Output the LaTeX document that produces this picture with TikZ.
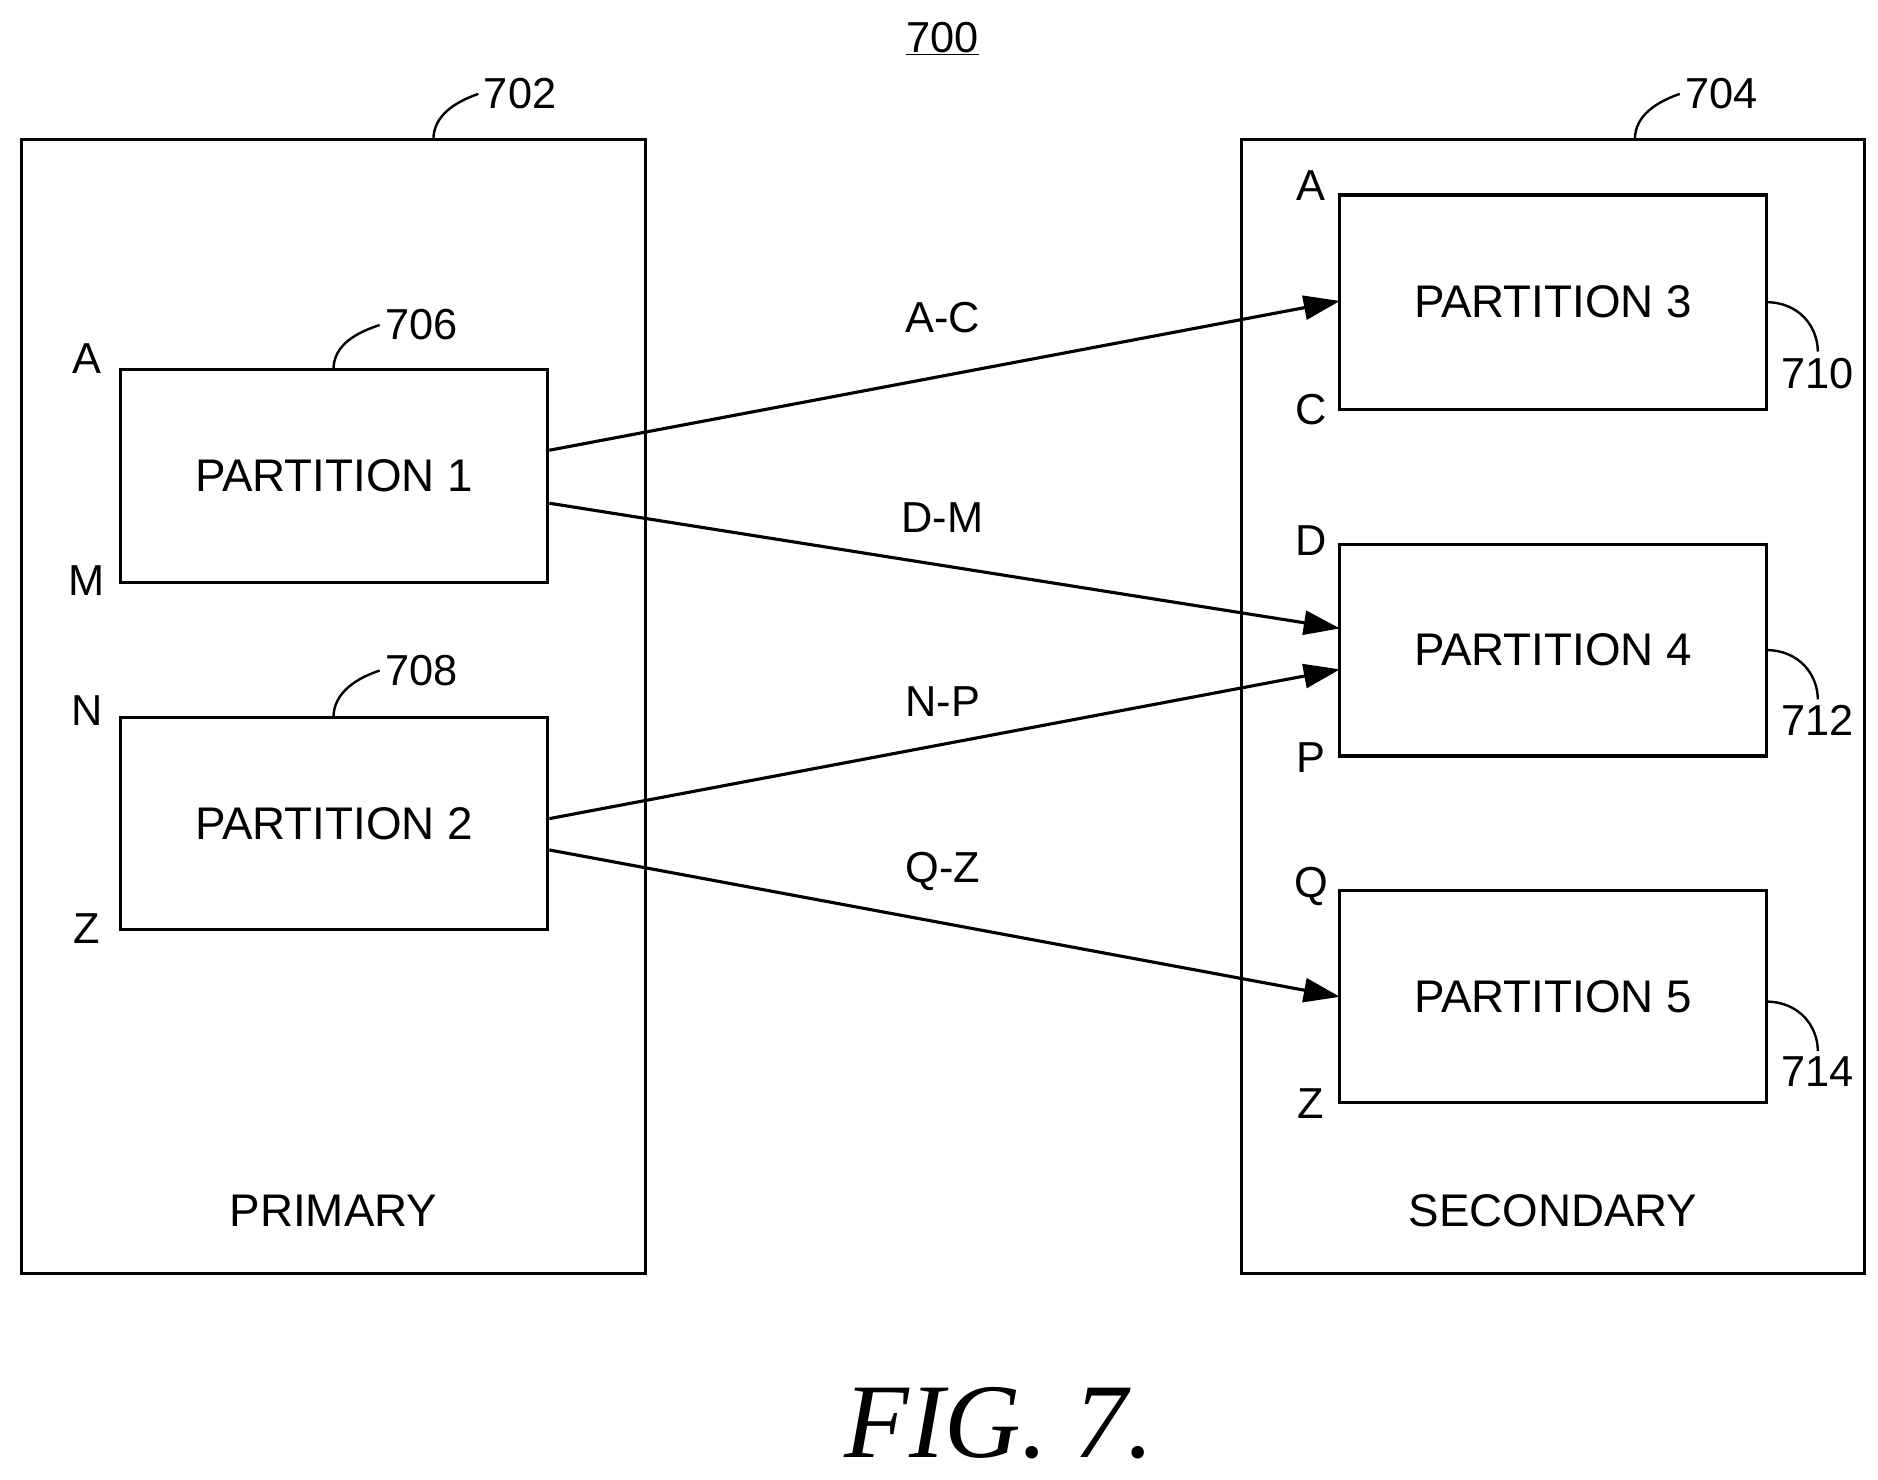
\documentclass[tikz,border=0pt]{standalone}
\usepackage{fontspec}
\setmainfont{Liberation Sans}
\newfontfamily\figfont{Liberation Serif}
\usetikzlibrary{arrows.meta}
\begin{document}
\begin{tikzpicture}[x=1pt,y=-1pt,line width=2.6pt,
 txt/.style={font=\fontsize{36}{40}\selectfont},
 big/.style={font=\fontsize{38}{42}\selectfont},
 arr/.style={-{Triangle[length=30pt,width=20pt]}},
 lead/.style={line width=2pt}]
\useasboundingbox (0,0) rectangle (1560,1229);
\coordinate (pa) at (18,116); \coordinate (pb) at (536,1058);
\draw (pa) rectangle (pb);
\coordinate (sa) at (1031,116); \coordinate (sb) at (1549,1058);
\draw (sa) rectangle (sb);
\node[draw,minimum width=355pt,minimum height=177pt,inner sep=0,big] (p1) at (277.5,395.5) {PARTITION 1};
\node[draw,minimum width=355pt,minimum height=176pt,inner sep=0,big] (p2) at (277.5,684) {PARTITION 2};
\node[draw,minimum width=354pt,minimum height=178pt,inner sep=0,big] (p3) at (1290,251) {PARTITION 3};
\node[draw,minimum width=354pt,minimum height=176pt,inner sep=0,big] (p4) at (1290,540) {PARTITION 4};
\node[draw,minimum width=354pt,minimum height=176pt,inner sep=0,big] (p5) at (1290,828) {PARTITION 5};
\coordinate (t3) at (1113,250); \coordinate (t4a) at (1113,522);
\coordinate (t4b) at (1113,556); \coordinate (t5) at (1113,828);
\draw[arr] (p1.east |- 0,374) -- (t3);
\draw[arr] (p1.east |- 0,418) -- (t4a);
\draw[arr] (p2.east |- 0,680) -- (t4b);
\draw[arr] (p2.east |- 0,706) -- (t5);
\node[txt] (lac) at (783,264) {A-C};
\node[txt] (ldm) at (783,430) {D-M};
\node[txt] (lnp) at (783,583) {N-P};
\node[txt] (lqz) at (783,724) {Q-Z};
\node[txt] (l1) at (72,298) {A};
\node[txt] (l2) at (72,482) {M};
\node[txt] (l3) at (72,590) {N};
\node[txt] (l4) at (72,771) {Z};
\node[txt] (r1) at (1089,154) {A};
\node[txt] (r2) at (1089,340) {C};
\node[txt] (r3) at (1089,449) {D};
\node[txt] (r4) at (1089,629) {P};
\node[txt] (r5) at (1089,736) {Q};
\node[txt] (r6) at (1089,917) {Z};
\node[big] (prim) at (277,1006) {PRIMARY};
\node[big] (sec) at (1290,1006) {SECONDARY};
\node[txt] (n700) at (783,32) {\underline{700}};
\node[txt] (n702) at (432,78) {702};
\node[txt] (n704) at (1430,78) {704};
\node[txt] (n706) at (350,270) {706};
\node[txt] (n708) at (350,557) {708};
\node[txt] (n710) at (1510,310) {710};
\node[txt] (n712) at (1510,598) {712};
\node[txt] (n714) at (1510,890) {714};
\draw[lead] (360,116) .. controls (360,95) and (380,84) .. (n702.west);
\draw[lead] (1358,116) .. controls (1358,95) and (1378,84) .. (n704.west);
\draw[lead] (277,307) .. controls (277,286) and (297,276) .. (n706.west);
\draw[lead] (277,596) .. controls (277,575) and (297,563) .. (n708.west);
\draw[lead] (1467,251) .. controls (1495,251) and (1510,272) .. (1510,292);
\draw[lead] (1467,540) .. controls (1495,540) and (1510,561) .. (1510,581);
\draw[lead] (1467,832) .. controls (1495,832) and (1510,853) .. (1510,873);
\node[font=\figfont\itshape\fontsize{88}{92}\selectfont] (fig) at (830,1182) {FIG. 7.};
\end{tikzpicture}
\end{document}
